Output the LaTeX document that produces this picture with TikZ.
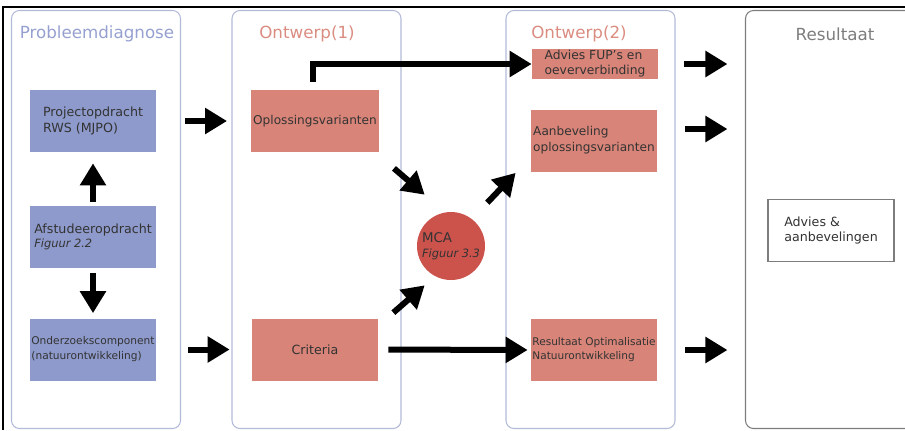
\documentclass[tikz,border=0pt]{standalone}
\usepackage{fontspec}
\setmainfont{DejaVu Sans}
\usetikzlibrary{arrows.meta}

\definecolor{probblauw}{RGB}{142,154,203}
\definecolor{zalmrood}{RGB}{216,132,120}
\definecolor{mcarood}{RGB}{204,82,76}
\definecolor{panellijn}{RGB}{178,186,216}
\definecolor{probtitel}{RGB}{150,160,208}
\definecolor{zalmtitel}{RGB}{218,140,128}
\definecolor{resgrijs}{RGB}{125,125,125}

\begin{document}
\begin{tikzpicture}[x=0.2mm, y=-0.2mm,
        panel/.style={rectangle, draw=panellijn, line width=0.6pt, rounded corners=0.16cm, minimum width=3.38cm, minimum height=8.36cm},
        titel/.style={font=\fontsize{9.5}{11}\selectfont},
        blok/.style={rectangle, minimum width=2.52cm, minimum height=1.24cm, align=left, inner sep=1pt, text=black!80, font=\fontsize{7.2}{9}\selectfont},
        blauw/.style={blok, fill=probblauw},
        zalm/.style={blok, fill=zalmrood},
        pijl/.style={line width=0.12cm, -{Triangle[length=0.44cm, width=0.5cm]}}
    ]
        \useasboundingbox (0,0) rectangle (905,430);
        \draw[line width=0.8pt] (3,430) -- (3,7) -- (905,7);

        % Panels
        \node[panel] (p1) at (96,219.5) {};
        \node[panel] (p2) at (316.5,219.5) {};
        \node[panel] (p3) at (590.5,219.5) {};
        \node[panel, draw=resgrijs] (p4) at (830,219.5) {};
        \node[titel, text=probtitel] (t1) at (97,34) {Probleemdiagnose};
        \node[titel, text=zalmtitel] (t2) at (307,34) {Ontwerp(1)};
        \node[titel, text=zalmtitel] (t3) at (579,34) {Ontwerp(2)};
        \node[titel, text=resgrijs] (t4) at (835,34) {Resultaat};

        % Probleemdiagnose
        \node[blauw] (proj) at (93,121) {Projectopdracht\\RWS (MJPO)};
        \node[blauw] (afst) at (93,236.5) {Afstudeeropdracht\\[-1pt]{\fontsize{6.5}{8}\selectfont\itshape Figuur 2.2}};
        \node[blauw, inner sep=0pt, font=\fontsize{6.05}{8.5}\selectfont] (onder) at (93,349.5) {Onderzoekscomponent\\(natuurontwikkeling)};

        % Ontwerp
        \node[zalm, font=\fontsize{6.9}{9}\selectfont] (opl) at (315,121) {Oplossingsvarianten};
        \node[zalm] (crit) at (315,349.5) {Criteria};
        \node[circle, fill=mcarood, minimum size=1.36cm, inner sep=0pt, align=left, text=black!80, font=\fontsize{7.6}{8.5}\selectfont] (mca) at (451,246) {MCA\\{\fontsize{6.5}{8}\selectfont\itshape Figuur 3.3}};
        \node[zalm, minimum height=0.6cm, inner sep=0pt, font=\fontsize{7}{8.5}\selectfont] (advies) at (595,64) {Advies FUP’s en\\oeververbinding};
        \node[zalm, font=\fontsize{6.9}{9}\selectfont] (aanb) at (594,140.5) {Aanbeveling\\oplossingsvarianten};
        \node[zalm, inner sep=0pt, font=\fontsize{6}{8}\selectfont] (resopt) at (594,350) {Resultaat Optimalisatie\\Natuurontwikkeling};

        % Resultaat
        \node[blok, fill=white, draw=resgrijs, line width=0.6pt] (advres) at (831,230.5) {Advies \&\\aanbevelingen};

        % Arrows
        \draw[pijl, shorten <=0.06cm, shorten >=0.22cm] (afst.north) -- (proj.south);
        \draw[pijl, shorten <=0.1cm, shorten >=0.1cm] (afst.south) -- (onder.north);
        \draw[pijl, shorten <=0.58cm, shorten >=0.48cm] (proj.east) -- (opl.west);
        \draw[pijl, shorten <=0.64cm, shorten >=0.44cm] (onder.east) -- (crit.west);
        \draw[pijl] ([xshift=-0.04cm, yshift=0.16cm]opl.north) |- (advies.west);
        \draw[pijl] ([shift={(15,16)}]opl.south east) -- ([shift={(-2,-27)}]mca.north west);
        \draw[pijl] ([shift={(15,-5.5)}]crit.north east) -- ([shift={(-2,15)}]mca.south west);
        \draw[pijl] ([shift={(12,-19)}]mca.north east) -- ([shift={(-15,1)}]aanb.south west);
        \draw[pijl, shorten <=0.2cm, shorten >=0.06cm] (crit.east) -- (resopt.west);

        % Naar resultaat
        \coordinate (aanbpijl) at ([yshift=0.23cm]aanb.east);
        \draw[pijl, shorten <=0.52cm, shorten >=0.35cm] (advies.east) -- (advies.east -| p4.west);
        \draw[pijl, shorten <=0.56cm, shorten >=0.35cm] (aanbpijl) -- (aanbpijl -| p4.west);
        \draw[pijl, shorten <=0.56cm, shorten >=0.35cm] (resopt.east) -- (resopt.east -| p4.west);
    \end{tikzpicture}
\end{document}
